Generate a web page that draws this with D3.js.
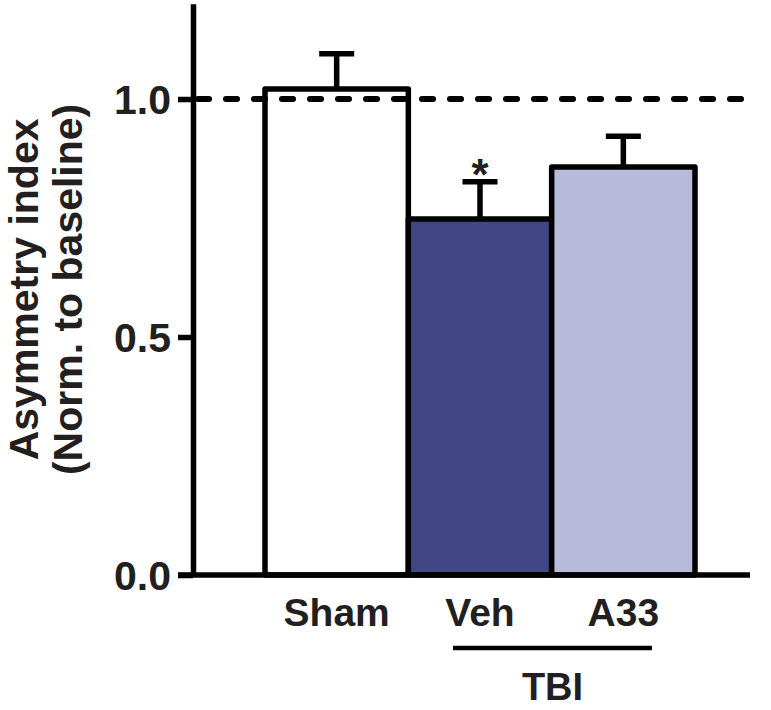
<!DOCTYPE html>
<html>
<head>
<meta charset="utf-8">
<script src="https://cdn.jsdelivr.net/npm/d3@7"></script>
<style>
  html, body { margin: 0; padding: 0; background: #fff; }
  svg { display: block; }
  text { font-family: "Liberation Sans", Arial, Helvetica, sans-serif; font-weight: bold; fill: #231f20; }
</style>
</head>
<body>
<svg id="chart" width="771" height="710"></svg>
<script>
// ---- data ----
const categories = ["Sham", "Veh", "A33"];
const means = [1.021, 0.748, 0.857];
const errors = [0.074, 0.078, 0.065];
const colors = ["#ffffff", "#414684", "#b7badb"];
const yTicks = [0.0, 0.5, 1.0];
const baseline = 1.0;
const significance = ["", "*", ""];
const groupLabel = "TBI";
const groupMembers = ["Veh", "A33"];
const yTitle = ["Asymmetry index", "(Norm. to baseline)"];

const svg = d3.select("#chart");
const axisX = 193, axisY = 575;

const y = d3.scaleLinear().domain([0, 1.2]).range([axisY, axisY - 476 * 1.2]);
const x = d3.scaleBand().domain(categories).range([265, 695]).padding(0);

// bars
svg.append("g").selectAll("rect").data(categories).join("rect")
  .attr("x", d => x(d))
  .attr("y", (d, i) => y(means[i]))
  .attr("width", x.bandwidth())
  .attr("height", (d, i) => y(0) - y(means[i]))
  .attr("fill", (d, i) => colors[i])
  .attr("stroke", "#000")
  .attr("stroke-width", 5.5)
  .attr("stroke-linejoin", "round");

// error bars
const eb = svg.append("g").attr("stroke", "#000").attr("stroke-width", 5.5);
categories.forEach((c, i) => {
  const cx = x(c) + x.bandwidth() / 2;
  eb.append("line").attr("x1", cx).attr("x2", cx)
    .attr("y1", y(means[i])).attr("y2", y(means[i] + errors[i]));
  eb.append("line").attr("x1", cx - 17.5).attr("x2", cx + 17.5)
    .attr("y1", y(means[i] + errors[i])).attr("y2", y(means[i] + errors[i]));
});

// baseline dashed line
svg.append("line")
  .attr("x1", axisX + 5).attr("x2", 745)
  .attr("y1", y(baseline)).attr("y2", y(baseline))
  .attr("stroke", "#000").attr("stroke-width", 6)
  .attr("stroke-linecap", "round")
  .attr("stroke-dasharray", "11,17");

// y axis
const yAxis = svg.append("g").attr("transform", `translate(${axisX},0)`)
  .call(d3.axisLeft(y).tickValues(yTicks).tickFormat(d3.format(".1f")).tickSize(15).tickSizeOuter(0).tickPadding(7));
yAxis.select(".domain").attr("stroke", "#000").attr("stroke-width", 5.5);
yAxis.selectAll(".tick line").attr("stroke", "#000").attr("stroke-width", 5.5);
yAxis.selectAll(".tick text").attr("font-size", 41).attr("dy", "0.36em")
  .style("font-family", "Liberation Sans, Arial, sans-serif").style("font-weight", "bold").attr("fill", "#231f20");

// x axis line
svg.append("line").attr("x1", axisX - 15).attr("x2", 750)
  .attr("y1", axisY).attr("y2", axisY)
  .attr("stroke", "#000").attr("stroke-width", 5.5);

// x labels
const xAxis = svg.append("g").attr("transform", `translate(0,${axisY})`)
  .call(d3.axisBottom(x).tickSize(0).tickSizeOuter(0));
xAxis.select(".domain").remove();
xAxis.selectAll(".tick text").attr("dy", null).attr("y", 51).attr("font-size", 39)
  .style("font-family", "Liberation Sans, Arial, sans-serif").style("font-weight", "bold").attr("fill", "#231f20");

// significance star
categories.forEach((c, i) => {
  if (!significance[i]) return;
  svg.append("text")
    .attr("x", x(c) + x.bandwidth() / 2)
    .attr("y", y(means[i] + errors[i]) + 8)
    .attr("text-anchor", "middle")
    .attr("font-size", 44)
    .text(significance[i]);
});

// group bracket
const gx1 = 453, gx2 = 652;
svg.append("line").attr("x1", gx1).attr("x2", gx2).attr("y1", 648).attr("y2", 648)
  .attr("stroke", "#000").attr("stroke-width", 4.5);
svg.append("text").attr("x", (gx1 + gx2) / 2).attr("y", 700)
  .attr("text-anchor", "middle").attr("font-size", 38).text(groupLabel);

// y title
const yt = svg.append("text")
  .attr("transform", `translate(0,${(axisY + y(1.2)) / 2}) rotate(-90)`)
  .attr("text-anchor", "middle").attr("font-size", 41);
yt.append("tspan").attr("x", 0).attr("y", 38).text(yTitle[0]);
yt.append("tspan").attr("x", 0).attr("y", 82).text(yTitle[1]);
</script>
</body>
</html>
